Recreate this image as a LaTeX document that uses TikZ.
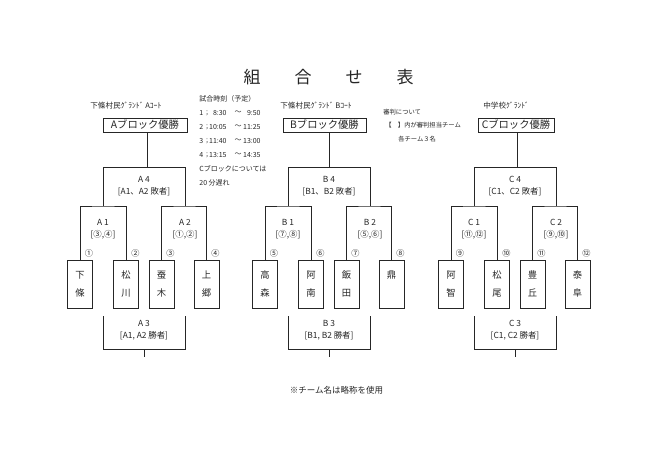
\documentclass[tikz,border=0pt]{standalone}
\usepackage{fontspec}
\setmainfont{Noto Sans CJK JP}
\tikzset{
  team/.style={draw, minimum width=25pt, minimum height=48pt, inner sep=0pt, align=center, font=\fontsize{9.3}{18}\selectfont},
  winbox/.style={draw, minimum height=14pt, inner sep=0pt, font=\fontsize{10.3}{11}\selectfont},
  lbl/.style={font=\fontsize{7.6}{9}\selectfont, inner sep=0pt, anchor=west},
  num/.style={font=\fontsize{8.2}{9}\selectfont, inner sep=0pt},
  mtext/.style={font=\fontsize{8.4}{9}\selectfont, inner sep=0pt},
  sch/.style={font=\fontsize{7}{8}\selectfont, inner sep=0pt},
  ref/.style={font=\fontsize{6.3}{7}\selectfont, inner sep=0pt, anchor=west},
}
\newcommand\cnum[1]{\char\numexpr"245F+#1\relax}
% #1 letter, #2 shift, #3-#6 teams, #7 #8 bracket labels, #9 first number
\newcommand\tourn[9]{%
\begin{scope}[xshift=#2]
  \node[team] (#1t1) at (80,284) {#3};
  \node[team] (#1t2) at (126,284) {#4};
  \node[team] (#1t3) at (161.5,284) {#5};
  \node[team] (#1t4) at (206.5,284) {#6};
  \coordinate (#1m1) at (103,206);
  \coordinate (#1m2) at (185,206);
  \draw (#1t1.north) |- (#1m1) -| (#1t2.north);
  \draw (#1t3.north) |- (#1m2) -| (#1t4.north);
  \coordinate (#1c1) at (103,167);
  \coordinate (#1c2) at (185,167);
  \draw (#1m1) -- (#1c1) -- (#1c2) -- (#1m2);
  \node[num] at ([xshift=9pt,yshift=6pt]#1t1.north) {\cnum{#9}};
  \node[num] at ([xshift=9.5pt,yshift=6pt]#1t2.north) {\cnum{\numexpr#9+1\relax}};
  \node[num] at ([xshift=9pt,yshift=6pt]#1t3.north) {\cnum{\numexpr#9+2\relax}};
  \node[num] at ([xshift=9pt,yshift=6pt]#1t4.north) {\cnum{\numexpr#9+3\relax}};
  \node[mtext] at (103,222) {#1 1};
  \node[mtext] at (103,235) {#7};
  \node[mtext] at (185,222) {#1 2};
  \node[mtext] at (185,235) {#8};
  \node[mtext] at (144,179) {#1 4};
  \node[mtext] at (144,192) {[#11、#12 敗者]};
  \coordinate (#1b1) at (103,316);
  \coordinate (#1b2) at (185,316);
  \coordinate (#1s) at (144,357);
  \draw (#1b1) -- (103,349) -- (185,349) -- (#1b2);
  \draw (144,349) -- (#1s);
  \node[mtext] at (144,323) {#1 3};
  \node[mtext] at (144,336) {[#11, #12 勝者]};
\end{scope}}
\begin{document}
\begin{tikzpicture}[x=1pt,y=-1pt,line width=0.75pt,draw=black!85,text=black!85]
\useasboundingbox[fill=white] (0,0) rectangle (660,467);
% title
\node[font=\fontsize{17}{17}\selectfont, inner sep=0pt] (title) at (328.5,77) {組　　合　　せ　　表};
% blocks
\tourn{A}{0pt}{下\\條}{松\\川}{蚕\\木}{上\\郷}{[③,④]}{[①,②]}{1}
\tourn{B}{185pt}{高\\森}{阿\\南}{飯\\田}{鼎\\\phantom{鼎}}{[⑦,⑧]}{[⑤,⑥]}{5}
\tourn{C}{371pt}{阿\\智}{松\\尾}{豊\\丘}{泰\\阜}{[⑪,⑫]}{[⑨,⑩]}{9}
% top boxes
\node[lbl] (Alab) at (90,106) {下條村民ｸﾞﾗﾝﾄﾞ Aｺｰﾄ};
\node[lbl] (Blab) at (280,106) {下條村民ｸﾞﾗﾝﾄﾞ Bｺｰﾄ};
\node[lbl] (Clab) at (483,106) {中学校ｸﾞﾗﾝﾄﾞ};
\node[winbox, minimum width=84pt] (Awin) at (145,125) {Aブロック優勝};
\node[winbox, minimum width=83pt] (Bwin) at (324.5,125) {Bブロック優勝};
\node[winbox, minimum width=76pt] (Cwin) at (516,125) {Cブロック優勝};
\coordinate (Atop) at (147,167);
\coordinate (Btop) at (329,167);
\coordinate (Ctop) at (517,167);
\draw (Awin.south -| Atop) -- (Atop);
\draw (Bwin.south -| Btop) -- (Btop);
\draw (Cwin.south -| Ctop) -- (Ctop);
% schedule
\node[sch, anchor=west] (s0) at (199,99) {試合時刻（予定）};
\foreach \n/\a/\b [count=\i] in {1/8:30/9:50, 2/10:05/11:25, 3/11:40/13:00, 4/13:15/14:35}{
  \node[sch, anchor=west] (sn\i) at (199,99+14*\i) {\n};
  \node[sch] (ss\i) at (207,99+14*\i) {;};
  \node[sch, anchor=east] (sa\i) at (227,99+14*\i) {\a};
  \node[sch] (st\i) at (238,99+14*\i) {～};
  \node[sch, anchor=east] (sb\i) at (261,99+14*\i) {\b};
}
\node[sch, anchor=west] (s5) at (199,169) {Cブロックについては};
\node[sch, anchor=west] (s6) at (199,183) {20 分遅れ};
% referee note
\node[ref] (r1) at (383,112) {審判について};
\node[ref] (r2) at (385,125) {【　】内が審判担当チーム};
\node[ref] (r3) at (398,139) {各チーム３名};
% footer
\node[font=\fontsize{8.5}{9}\selectfont, inner sep=0pt] (foot) at (336.5,390) {※チーム名は略称を使用};
\end{tikzpicture}
\end{document}
